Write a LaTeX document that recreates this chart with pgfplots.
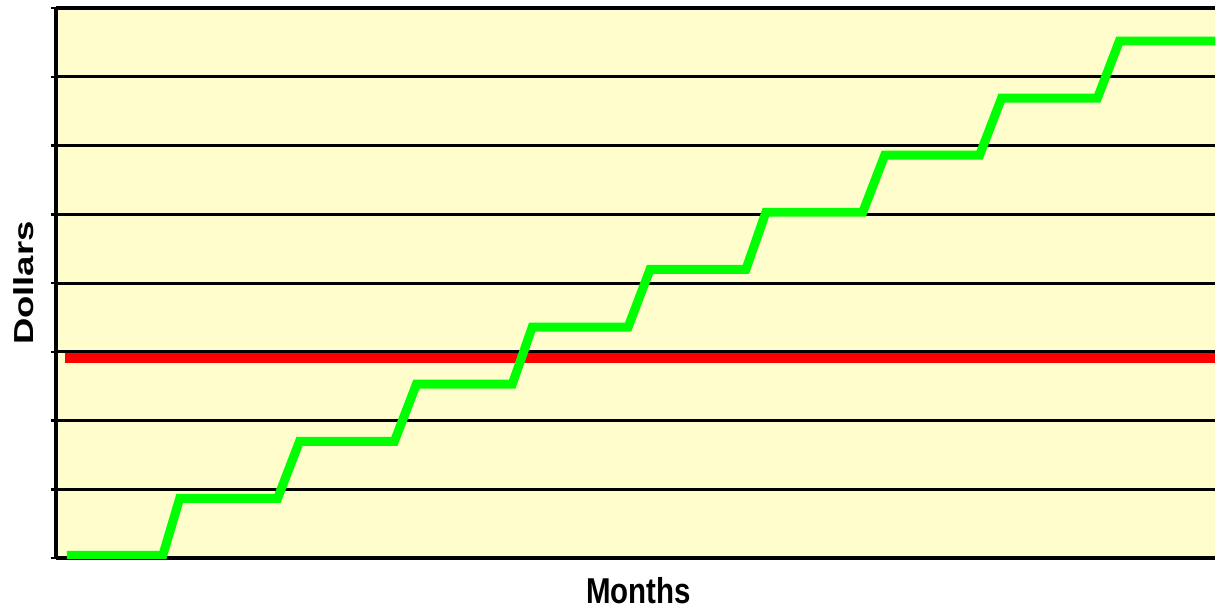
\documentclass[border=0pt]{standalone}
\usepackage{fontspec}
\setmainfont{Liberation Sans}
\usepackage{graphicx}
\usepackage{pgfplots}
\pgfplotsset{compat=1.18}
\definecolor{bgyellow}{HTML}{FFFDCC}
\begin{document}
\begin{tikzpicture}
\begin{axis}[
  scale only axis,
  width=1161pt, height=551pt,
  xmin=0, xmax=1161, ymin=0, ymax=8,
  axis x line*=box, axis y line*=left,
  axis line style={black, line width=3.5pt},
  axis background/.style={fill=bgyellow},
  xtick=\empty,
  ytick={0,1,...,8}, yticklabels={},
  ymajorgrids, major grid style={black, line width=3pt},
  major tick length=5pt, tick align=outside,
  tick style={black, line width=2.5pt},
  clip=true,
  xlabel={\fontsize{36}{40}\selectfont\bfseries\scalebox{0.82}[1]{Months}},
  ylabel={\fontsize{27.5}{30}\selectfont\bfseries\scalebox{1.33}[1]{Dollars}},
  xlabel style={at={(axis description cs:0.5,0)}, anchor=north, yshift=-19pt, xshift=3pt, inner sep=0pt},
  ylabel style={at={(axis description cs:0,0.5)}, anchor=south, rotate=0, yshift=19pt},
]
\addplot[red, line width=9.5pt] coordinates {(9,2.91) (1161,2.91)};
\addplot[color={rgb,255:red,0;green,255;blue,0}, line width=9pt, line join=miter] coordinates {
(11,0.04) (107,0.04) (124,0.871) (222,0.871) (244,1.70) (339,1.70)
(361,2.53) (457,2.53) (477,3.36) (573,3.36) (595,4.20) (691,4.20)
(711,5.03) (808,5.03) (830,5.86) (925,5.86) (947,6.69) (1043,6.69)
(1065,7.52) (1170,7.52)};
\end{axis}
\useasboundingbox (current axis.south west) ++(-56pt,-52pt) rectangle ([yshift=8pt]current axis.north east);
\end{tikzpicture}
\end{document}
